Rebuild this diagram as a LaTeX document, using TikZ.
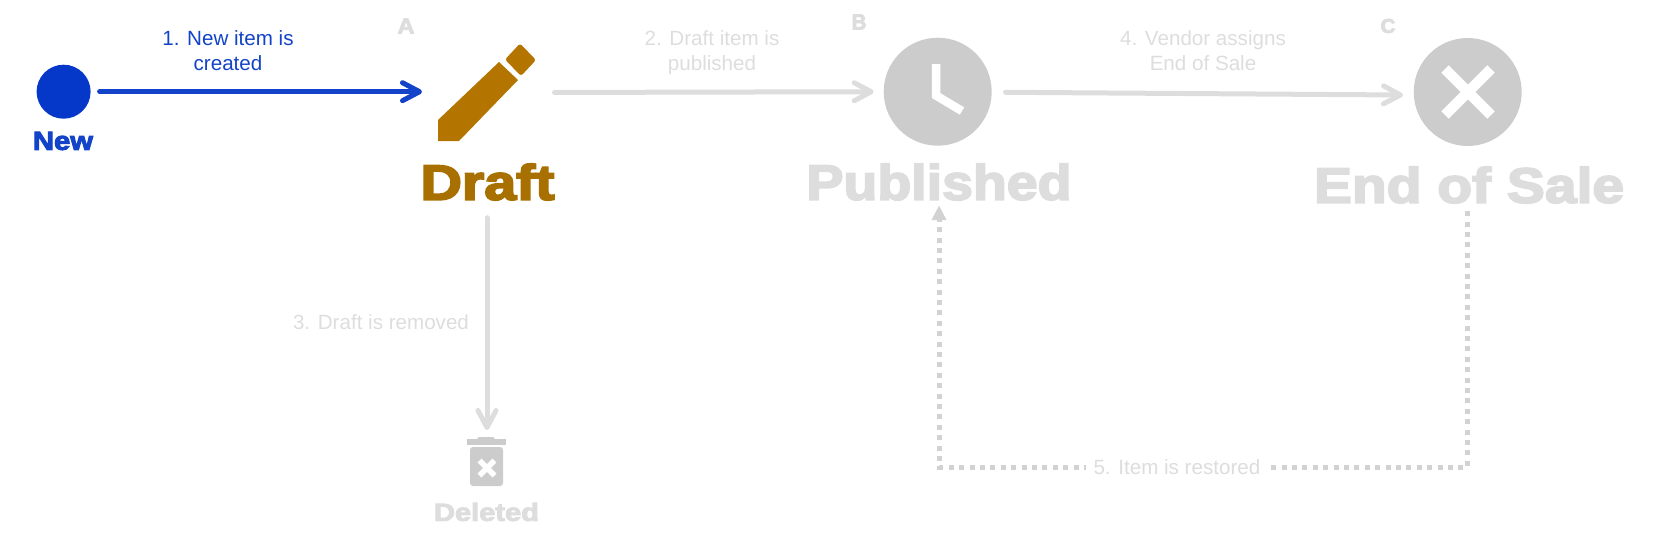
\documentclass[tikz,border=0pt]{standalone}
\usepackage{fontspec}
\setmainfont{Liberation Sans}
\newfontfamily\blk[UprightFont=* Bold,FakeBold=3.5]{Liberation Sans}
\usetikzlibrary{arrows.meta,calc}
\definecolor{blueC}{HTML}{0537C8}
\definecolor{blueT}{HTML}{1243C8}
\definecolor{brownP}{HTML}{B37400}
\definecolor{brownT}{HTML}{A87000}
\definecolor{iconG}{HTML}{CCCCCC}
\definecolor{paleG}{HTML}{DDDDDD}
\newcommand{\fitlabel}[3]{\resizebox{#1pt}{#2pt}{\blk #3}}
\tikzset{
  x=1pt,y=-1pt,
  every node/.style={inner sep=0pt,outer sep=0pt},
  nolabel/.style={align=center,font=\fontsize{20.6}{25}\selectfont,text=paleG},
  bluelabel/.style={nolabel,text=blueT},
  heading/.style={text=paleG},
  dotdisc/.style={circle,minimum size=#1},
  chev/.style={line width=5pt,line cap=round,-{Straight Barb[length=17pt,width=18pt,round,line width=5pt]}},
  flowgray/.style={chev,draw=paleG},
  flowblue/.style={chev,draw=blueT},
  dotted flow/.style={draw=paleG!95!black,line width=5pt,dash pattern=on 5pt off 5.4pt,-{Triangle[length=15pt,width=14pt]}}
}
\begin{document}
\begin{tikzpicture}
\useasboundingbox (0,0) rectangle (1663,549);
% state anchors
\node[dotdisc=54pt,fill=blueC] (new) at (63.6,91.7) {};
\node[dotdisc=108pt,fill=iconG] (clock) at (937.7,91.7) {};
\node[dotdisc=108pt,fill=iconG] (eos) at (1467.7,92) {};
\node[minimum width=98pt,minimum height=97pt] (pencil) at (487,92.5) {};
\node[minimum width=39pt,minimum height=49pt] (trash) at (487,461.5) {};
% pencil icon
\fill[brownP] (438,120) -- (499,62) -- (518,80) -- (459,141) -- (438,141) -- cycle;
\fill[brownP,rounded corners=2.5pt] (505,59.5) -- (520,43.5) -- (536,60) -- (521,76) -- cycle;
% clock hands
\draw[white,line width=8.5pt,miter limit=10] (936,64) -- (936,95.5) -- (962,111);
% cross
\draw[white,line width=10.5pt] (1445,69) -- (1491,115) (1491,69) -- (1445,115);
% trash
\fill[iconG] (467,439) rectangle (506,445);
\fill[iconG,rounded corners=1pt] (477,440) -- (478,437) -- (494,437) -- (495,440) -- cycle;
\fill[iconG,rounded corners=3pt] (470,447) -- (503,447) -- (503,486) -- (470,486) -- cycle;
\draw[white,line width=5.5pt] (479.5,460.5) -- (494.5,475.5) (494.5,460.5) -- (479.5,475.5);
% headings
\node[text=blueT] (newlbl) at (63,141) {\fitlabel{60}{18}{New}};
\node[text=brownT] (draftlbl) at (487.5,182) {\fitlabel{134}{36}{Draft}};
\node[heading] (publbl) at (939,182) {\fitlabel{265}{36}{Published}};
\node[heading] (eoslbl) at (1469,185) {\fitlabel{310}{36}{End of Sale}};
\node[heading] (dellbl) at (486.5,512) {\fitlabel{105}{18}{Deleted}};
\node[heading] (lblA) at (406,26) {\fitlabel{17}{15}{A}};
\node[heading] (lblB) at (859,22) {\fitlabel{15}{15}{B}};
\node[heading] (lblC) at (1388,26) {\fitlabel{15}{14}{C}};
% connector labels
\node[bluelabel] (t1) at (228,50.5) {1. New item is\\created};
\node[nolabel] (t2) at (712,52.5) {2. Draft item is\\published};
\node[nolabel] (t3) at (381,322) {3. Draft is removed};
\node[nolabel] (t4) at (1203,50.5) {4. Vendor assigns\\End of Sale};
% connectors
\draw[flowblue,shorten <=9pt,shorten >=16pt] (new.east) -- (new.east -| pencil.west);
\draw[flowgray,shorten <=18.5pt,shorten >=10pt] (pencil.east) -- (clock.west);
\draw[flowgray] ($(clock.east)+(13.8,0.6)$) -- ($(eos.west)+(-10.7,3)$);
\draw[flowgray,shorten <=17.5pt,shorten >=7pt] (draftlbl.south -| trash.north) -- (trash.north);
\draw[dotted flow,shorten >=5pt] ($(eoslbl.south -| eos.south)+(0,8)$) -- (eos.south |- 0,467) -- node[pos=0.55,fill=white,inner xsep=8pt,inner ysep=2pt,nolabel] (t5) {5. Item is restored} (publbl.south |- 0,467) -- (publbl.south);
\end{tikzpicture}
\end{document}
